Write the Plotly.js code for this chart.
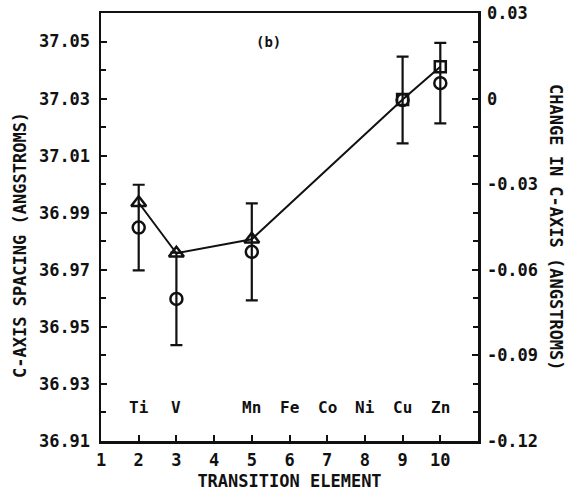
<!DOCTYPE html>
<html>
<head>
<meta charset="utf-8">
<script src="https://cdn.plot.ly/plotly-3.0.1.min.js"></script>
<style>html,body{margin:0;padding:0;background:#fff;}#chart{width:567px;height:494px;}</style>
</head>
<body>
<div id="chart"></div>
<script>
// Element positions (x) and names
const elemX = [2, 3, 5, 6, 7, 8, 9, 10];
const elemNames = ["Ti", "V", "Mn", "Fe", "Co", "Ni", "Cu", "Zn"];

// Connected series: triangles (Ti, V, Mn) and squares (Cu, Zn)
const triX = [2, 3, 5];
const triY = [36.9935, 36.9758, 36.9807];
const sqX = [9, 10];
const sqY = [37.0297, 37.0412];

// Circles with error bars
const circX = [2, 3, 5, 9, 10];
const circY = [36.9848, 36.9598, 36.9763, 37.0295, 37.0354];
const circErr = [0.015, 0.0162, 0.0170, 0.0152, 0.0141];

// Axis ticks
const xTicks = [1, 2, 3, 4, 5, 6, 7, 8, 9, 10];
const leftTicks = [36.91, 36.93, 36.95, 36.97, 36.99, 37.01, 37.03, 37.05];
const rightTicks = [-0.12, -0.09, -0.06, -0.03, 0, 0.03];
const rightTickText = ["-0.12", "-0.09", "-0.06", "-0.03", "0", "0.03"];

const FONT = "DejaVu Sans Mono";
const ink = "#111";

const lineX = triX.concat(sqX);
const lineY = triY.concat(sqY);

const traces = [
  {x: lineX, y: lineY, type: "scatter", mode: "lines",
   line: {color: ink, width: 2}, hoverinfo: "skip", showlegend: false},
  {x: circX, y: circY, type: "scatter", mode: "markers",
   marker: {symbol: "circle-open", size: 12, color: ink, line: {width: 2.5, color: ink}},
   error_y: {type: "data", array: circErr, visible: true, color: ink, thickness: 2.2, width: 6},
   showlegend: false},
  {x: triX, y: triY, type: "scatter", mode: "markers",
   marker: {symbol: "triangle-up-open", size: 13, color: ink, line: {width: 2.5, color: ink}},
   showlegend: false},
  {x: sqX, y: sqY, type: "scatter", mode: "markers",
   marker: {symbol: "square-open", size: 11, color: ink, line: {width: 2.5, color: ink}},
   showlegend: false},
  // dummy trace for right axis
  {x: [1], y: [0], yaxis: "y2", type: "scatter", mode: "none", hoverinfo: "skip", showlegend: false}
];

const annotations = elemX.map((x, i) => ({
  x: x, y: 36.9216, xref: "x", yref: "y", text: elemNames[i], showarrow: false,
  font: {family: FONT, size: 16, color: ink, weight: "bold"}
}));
annotations.push({x: 5.45, y: 37.0498, xref: "x", yref: "y", text: "(b)", showarrow: false,
  font: {family: FONT, size: 14, color: ink}});
annotations.push({x: 0, y: 0.5, xref: "paper", yref: "paper", xanchor: "center", yanchor: "middle",
  xshift: -81, yshift: -18,
  text: "C-AXIS SPACING (ANGSTROMS)", textangle: -90, showarrow: false,
  font: {family: FONT, size: 17, color: ink, weight: "bold"}});
annotations.push({x: 1, y: 0.5, xref: "paper", yref: "paper", xanchor: "center", yanchor: "middle",
  xshift: 78, yshift: 0,
  text: "CHANGE IN C-AXIS (ANGSTROMS)", textangle: 90, showarrow: false,
  font: {family: FONT, size: 17, color: ink, weight: "bold"}});

const layout = {
  width: 567, height: 494,
  margin: {l: 101, r: 89, t: 13, b: 53},
  paper_bgcolor: "#fff", plot_bgcolor: "#fff",
  font: {family: FONT, size: 17, color: ink, weight: "bold"},
  showlegend: false,
  xaxis: {
    range: [1, 11], tickvals: xTicks, ticktext: xTicks.map(String),
    ticks: "inside", ticklen: 6, tickwidth: 2, tickcolor: ink,
    showline: true, linewidth: 2.5, linecolor: ink, mirror: true,
    showgrid: false, zeroline: false, ticklabelstandoff: 2,
    tickfont: {family: FONT, size: 17, color: ink, weight: "bold"},
    title: {text: "TRANSITION ELEMENT", font: {family: FONT, size: 17, color: ink, weight: "bold"}, standoff: 6}
  },
  yaxis: {
    range: [36.91, 37.06], tickvals: leftTicks, ticktext: leftTicks.map(v => v.toFixed(2)),
    ticks: "inside", ticklen: 6, tickwidth: 2, tickcolor: ink,
    minor: {dtick: 0.01, tick0: 36.91, ticks: "inside", ticklen: 5, tickwidth: 2, tickcolor: ink, showgrid: false},
    showline: true, linewidth: 2.5, linecolor: ink,
    showgrid: false, zeroline: false, ticklabelstandoff: 5,
    tickfont: {family: FONT, size: 17, color: ink, weight: "bold"}
  },
  yaxis2: {
    overlaying: "y", side: "right", anchor: "x",
    range: [-0.12, 0.03], tickvals: rightTicks, ticktext: rightTickText,
    ticks: "inside", ticklen: 6, tickwidth: 2, tickcolor: ink,
    minor: {dtick: 0.01, tick0: 0, ticks: "inside", ticklen: 5, tickwidth: 2, tickcolor: ink, showgrid: false},
    showline: true, linewidth: 2.5, linecolor: ink,
    showgrid: false, zeroline: false, ticklabelstandoff: 3,
    tickfont: {family: FONT, size: 17, color: ink, weight: "bold"}
  },
  annotations: annotations
};

Plotly.newPlot("chart", traces, layout, {staticPlot: true, displayModeBar: false});
</script>
</body>
</html>
